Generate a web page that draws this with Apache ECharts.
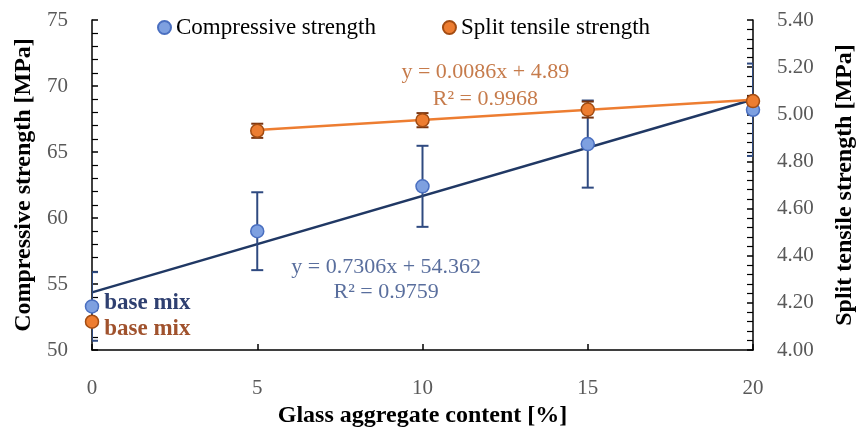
<!DOCTYPE html>
<html>
<head>
<meta charset="utf-8">
<script src="https://cdn.jsdelivr.net/npm/echarts@6/dist/echarts.min.js"></script>
<style>
  html, body { margin: 0; padding: 0; background: #fff; }
  #chart { width: 859px; height: 428px; }
</style>
</head>
<body>
<div id="chart"></div>
<script>
// glass aggregate content [%]
const glassContent = [0, 5, 10, 15, 20];
// compressive strength [MPa] with error (+/-)
const compressive = [53.3, 59.0, 62.4, 65.6, 68.2];
const compressiveErr = [2.6, 2.95, 3.07, 3.3, 3.5];
// split tensile strength [MPa] with error (+/-)
const splitTensile = [4.12, 4.93, 4.975, 5.02, 5.056];
const splitTensileErr = [0.01, 0.03, 0.03, 0.034, 0.02];
// linear fits: [slope, intercept], and the x range each one covers
const compressiveFit = [0.7306, 54.362];
const compressiveFitRange = [0, 20];
const tensileFit = [0.0086, 4.89];
const tensileFitRange = [5, 20];
// equation labels
const compressiveEq = ['y = 0.7306x + 54.362', 'R² = 0.9759'];
const tensileEq = ['y = 0.0086x + 4.89', 'R² = 0.9968'];
// anchor of equation text, in data units [x, y]
const compressiveEqAt = [8.9, 55.3];
const tensileEqAt = [11.9, 5.12];

const FONT = 'Liberation Serif';
const NAVY = '#203864';

const chartDom = document.getElementById('chart');
const myChart = echarts.init(chartDom);

const fitLine = (fit, range) => range.map((x) => [x, fit[0] * x + fit[1]]);

const errorBars = (values, errs) =>
  glassContent.map((x, i) => [x, values[i], errs[i]]);

const errorRender = (color, cap) => (params, api) => {
  const x = api.value(0);
  const y = api.value(1);
  const e = api.value(2);
  const top = api.coord([x, y + e]);
  const bot = api.coord([x, y - e]);
  const style = { stroke: color, lineWidth: 2 };
  return {
    type: 'group',
    children: [
      { type: 'line', shape: { x1: top[0], y1: top[1], x2: bot[0], y2: bot[1] }, style },
      { type: 'line', shape: { x1: top[0] - cap, y1: top[1], x2: top[0] + cap, y2: top[1] }, style },
      { type: 'line', shape: { x1: bot[0] - cap, y1: bot[1], x2: bot[0] + cap, y2: bot[1] }, style }
    ]
  };
};

const axisCommon = {
  axisLine: { show: true, lineStyle: { color: '#000', width: 1.5 } },
  axisTick: { show: true, inside: true, length: 6, lineStyle: { color: '#000', width: 1.5 } },
  minorTick: { show: true, splitNumber: 5, length: 6, lineStyle: { color: '#000', width: 1.2 } },
  splitLine: { show: false },
  axisLabel: { color: '#595959', fontFamily: FONT, fontSize: 21 },
  nameTextStyle: { color: '#000', fontFamily: FONT, fontSize: 24, fontWeight: 'bold' }
};

const option = {
  animation: false,
  backgroundColor: '#fff',
  grid: {
    left: 92,
    right: 106,
    top: 20,
    bottom: 78,
    containLabel: false,
    outerBoundsMode: 'none'
  },
  legend: {
    top: 11,
    left: 152,
    itemGap: 66,
    itemWidth: 13,
    itemHeight: 13,
    icon: 'circle',
    textStyle: { color: '#000', fontFamily: FONT, fontSize: 23 },
    data: ['Compressive strength', 'Split tensile strength']
  },
  xAxis: {
    ...axisCommon,
    type: 'value',
    min: 0,
    max: 20,
    interval: 5,
    minorTick: { show: false },
    axisLabel: { ...axisCommon.axisLabel, margin: 28 },
    name: 'Glass aggregate content [%]',
    nameLocation: 'middle',
    nameGap: 48
  },
  yAxis: [
    {
      ...axisCommon,
      type: 'value',
      min: 50,
      max: 75,
      interval: 5,
      axisLabel: { ...axisCommon.axisLabel, margin: 24 },
      name: 'Compressive strength [MPa]',
      nameLocation: 'middle',
      nameRotate: 90,
      nameGap: 55
    },
    {
      ...axisCommon,
      type: 'value',
      min: 4,
      max: 5.4,
      interval: 0.2,
      position: 'right',
      axisLabel: { ...axisCommon.axisLabel, margin: 24, formatter: (v) => v.toFixed(2) },
      name: 'Split tensile strength [MPa]',
      nameLocation: 'middle',
      nameRotate: 90,
      nameGap: 80
    }
  ],
  series: [
    {
      type: 'line',
      name: 'compressive fit',
      yAxisIndex: 0,
      data: fitLine(compressiveFit, compressiveFitRange),
      symbol: 'none',
      lineStyle: { color: NAVY, width: 2.5 },
      z: 2
    },
    {
      type: 'line',
      name: 'tensile fit',
      yAxisIndex: 1,
      data: fitLine(tensileFit, tensileFitRange),
      symbol: 'none',
      lineStyle: { color: '#ED7D31', width: 2.5 },
      z: 2
    },
    {
      type: 'custom',
      yAxisIndex: 0,
      clip: true,
      data: errorBars(compressive, compressiveErr),
      renderItem: errorRender('#2F4A80', 6),
      z: 3
    },
    {
      type: 'custom',
      yAxisIndex: 1,
      clip: true,
      data: errorBars(splitTensile, splitTensileErr),
      renderItem: errorRender('#7A3510', 6),
      z: 3
    },
    {
      type: 'scatter',
      name: 'Compressive strength',
      yAxisIndex: 0,
      data: glassContent.map((x, i) => [x, compressive[i]]),
      symbolSize: 13,
      itemStyle: { color: '#7EA0E0', borderColor: '#4A6FC0', borderWidth: 1.5, opacity: 1 },
      label: {
        show: true,
        formatter: (p) => (p.dataIndex === 0 ? 'base mix' : ''),
        position: 'right',
        distance: 5,
        offset: [0, -3],
        color: '#2E3F70',
        fontFamily: FONT,
        fontSize: 23,
        fontWeight: 'bold'
      },
      z: 5
    },
    {
      type: 'scatter',
      name: 'Split tensile strength',
      yAxisIndex: 1,
      data: glassContent.map((x, i) => [x, splitTensile[i]]),
      symbolSize: 13,
      itemStyle: { color: '#ED7D31', borderColor: '#A34C12', borderWidth: 1.5, opacity: 1 },
      label: {
        show: true,
        formatter: (p) => (p.dataIndex === 0 ? 'base mix' : ''),
        position: 'right',
        distance: 5,
        offset: [0, 7],
        color: '#A0522D',
        fontFamily: FONT,
        fontSize: 23,
        fontWeight: 'bold'
      },
      z: 5
    },
    {
      type: 'scatter',
      yAxisIndex: 0,
      data: [compressiveEqAt],
      symbolSize: 0,
      silent: true,
      label: {
        show: true,
        position: 'inside',
        formatter: compressiveEq.join('\n'),
        color: '#2F4A85',
        fontFamily: FONT,
        fontSize: 22,
        lineHeight: 25,
        align: 'center'
      },
      z: 6
    },
    {
      type: 'scatter',
      yAxisIndex: 1,
      data: [tensileEqAt],
      symbolSize: 0,
      silent: true,
      label: {
        show: true,
        position: 'inside',
        formatter: tensileEq.join('\n'),
        color: '#B85A1E',
        fontFamily: FONT,
        fontSize: 22,
        lineHeight: 27,
        align: 'center'
      },
      z: 6
    }
  ]
};

myChart.setOption(option);
</script>
</body>
</html>
